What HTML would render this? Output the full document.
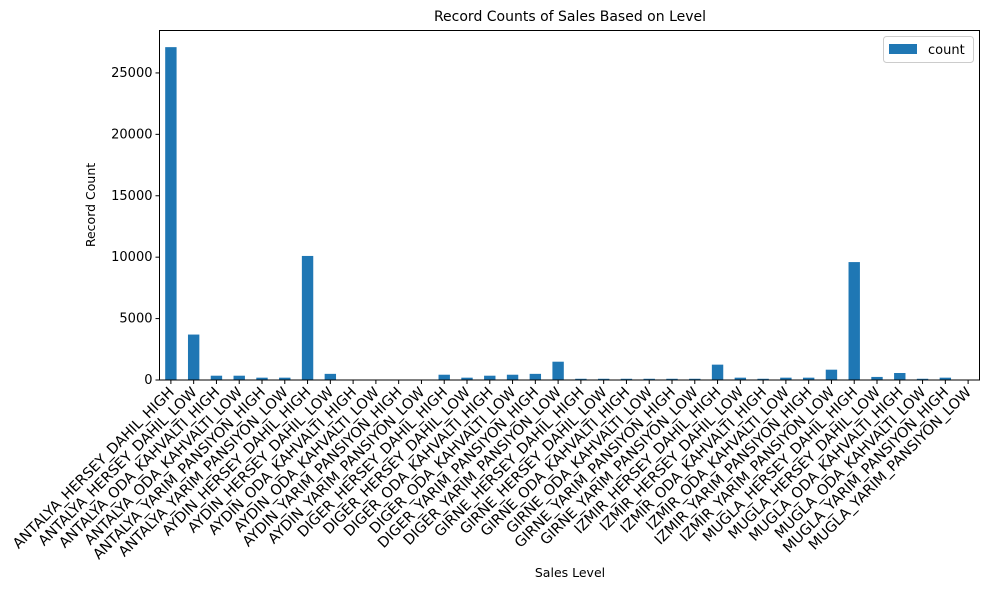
<!DOCTYPE html>
<html><head><meta charset="utf-8"><style>
body{margin:0;background:#fff;font-family:"Liberation Sans","DejaVu Sans",sans-serif;}
svg text{font-family:"DejaVu Sans","Liberation Sans",sans-serif;}
</style></head><body>
<svg id="chart" width="989" height="590" xmlns="http://www.w3.org/2000/svg">
<text x="570" y="21" text-anchor="middle" font-size="14">Record Counts of Sales Based on Level</text>
<text x="570" y="577" text-anchor="middle" font-size="12.5">Sales Level</text>
<text transform="translate(95,205) rotate(-90)" text-anchor="middle" font-size="12.5">Record Count</text>
<g id="bars"></g><g id="xt"></g><g id="yt"></g>
<rect x="159.5" y="30.5" width="820" height="349.5" fill="none" stroke="#000" stroke-width="1"/>
<g>
<rect x="883.5" y="36.5" width="90" height="26" rx="3" fill="#fff" stroke="#ccc"/>
<rect x="889" y="44" width="28" height="10" fill="#1f77b4"/>
<text x="928" y="54" font-size="13">count</text>
</g>
</svg>
<script>
const categories=["ANTALYA_HERSEY_DAHIL_HIGH","ANTALYA_HERSEY_DAHIL_LOW","ANTALYA_ODA_KAHVALTI_HIGH","ANTALYA_ODA_KAHVALTI_LOW","ANTALYA_YARIM_PANSIYON_HIGH","ANTALYA_YARIM_PANSIYON_LOW","AYDIN_HERSEY_DAHIL_HIGH","AYDIN_HERSEY_DAHIL_LOW","AYDIN_ODA_KAHVALTI_HIGH","AYDIN_ODA_KAHVALTI_LOW","AYDIN_YARIM_PANSIYON_HIGH","AYDIN_YARIM_PANSIYON_LOW","DIGER_HERSEY_DAHIL_HIGH","DIGER_HERSEY_DAHIL_LOW","DIGER_ODA_KAHVALTI_HIGH","DIGER_ODA_KAHVALTI_LOW","DIGER_YARIM_PANSIYON_HIGH","DIGER_YARIM_PANSIYON_LOW","GIRNE_HERSEY_DAHIL_HIGH","GIRNE_HERSEY_DAHIL_LOW","GIRNE_ODA_KAHVALTI_HIGH","GIRNE_ODA_KAHVALTI_LOW","GIRNE_YARIM_PANSIYON_HIGH","GIRNE_YARIM_PANSIYON_LOW","IZMIR_HERSEY_DAHIL_HIGH","IZMIR_HERSEY_DAHIL_LOW","IZMIR_ODA_KAHVALTI_HIGH","IZMIR_ODA_KAHVALTI_LOW","IZMIR_YARIM_PANSIYON_HIGH","IZMIR_YARIM_PANSIYON_LOW","MUGLA_HERSEY_DAHIL_HIGH","MUGLA_HERSEY_DAHIL_LOW","MUGLA_ODA_KAHVALTI_HIGH","MUGLA_ODA_KAHVALTI_LOW","MUGLA_YARIM_PANSIYON_HIGH","MUGLA_YARIM_PANSIYON_LOW"];
const counts=[27100,3700,350,350,190,190,10100,500,0,0,0,0,430,190,350,430,500,1490,100,100,100,100,100,100,1250,190,100,190,190,840,9600,250,570,100,190,0];
const yTicks=[0,5000,10000,15000,20000,25000];
const L=159.5,R=979.5,T=30.5,B=380,ymax=28455;
const NS="http://www.w3.org/2000/svg";
const step=(R-L)/categories.length;
const xs=i=>L+step*(i+0.5);
const ys=v=>B-(v/ymax)*(B-T);
function mk(t,a){const e=document.createElementNS(NS,t);for(const k in a)e.setAttribute(k,a[k]);return e;}
const bars=document.getElementById('bars'),xt=document.getElementById('xt'),yt=document.getElementById('yt');
counts.forEach((v,i)=>{
 const r=mk('rect',{x:xs(i)-step*0.25,y:ys(v),width:step*0.5,height:B-ys(v),fill:'#1f77b4'});
 
 
 bars.appendChild(r);
});
categories.forEach((c,i)=>{
 const x=xs(i);
 const l=mk('line',{x1:x,x2:x,y1:B,y2:B+4,stroke:'#000'});
 
 
 xt.appendChild(l);
 const t=mk('text',{'font-size':'14.4','text-anchor':'end',transform:`translate(${x+4},${B+13}) rotate(-45)`});
 t.textContent=c;
 
 
 xt.appendChild(t);
});
yTicks.forEach(v=>{
 const y=ys(v);
 const l=mk('line',{x1:L-4,x2:L,y1:y,y2:y,stroke:'#000'});
 
 
 yt.appendChild(l);
 const t=mk('text',{x:L-7,y:y+4,'font-size':'13','text-anchor':'end'});
 t.textContent=v;
 
 
 yt.appendChild(t);
});
</script>
</body></html>
